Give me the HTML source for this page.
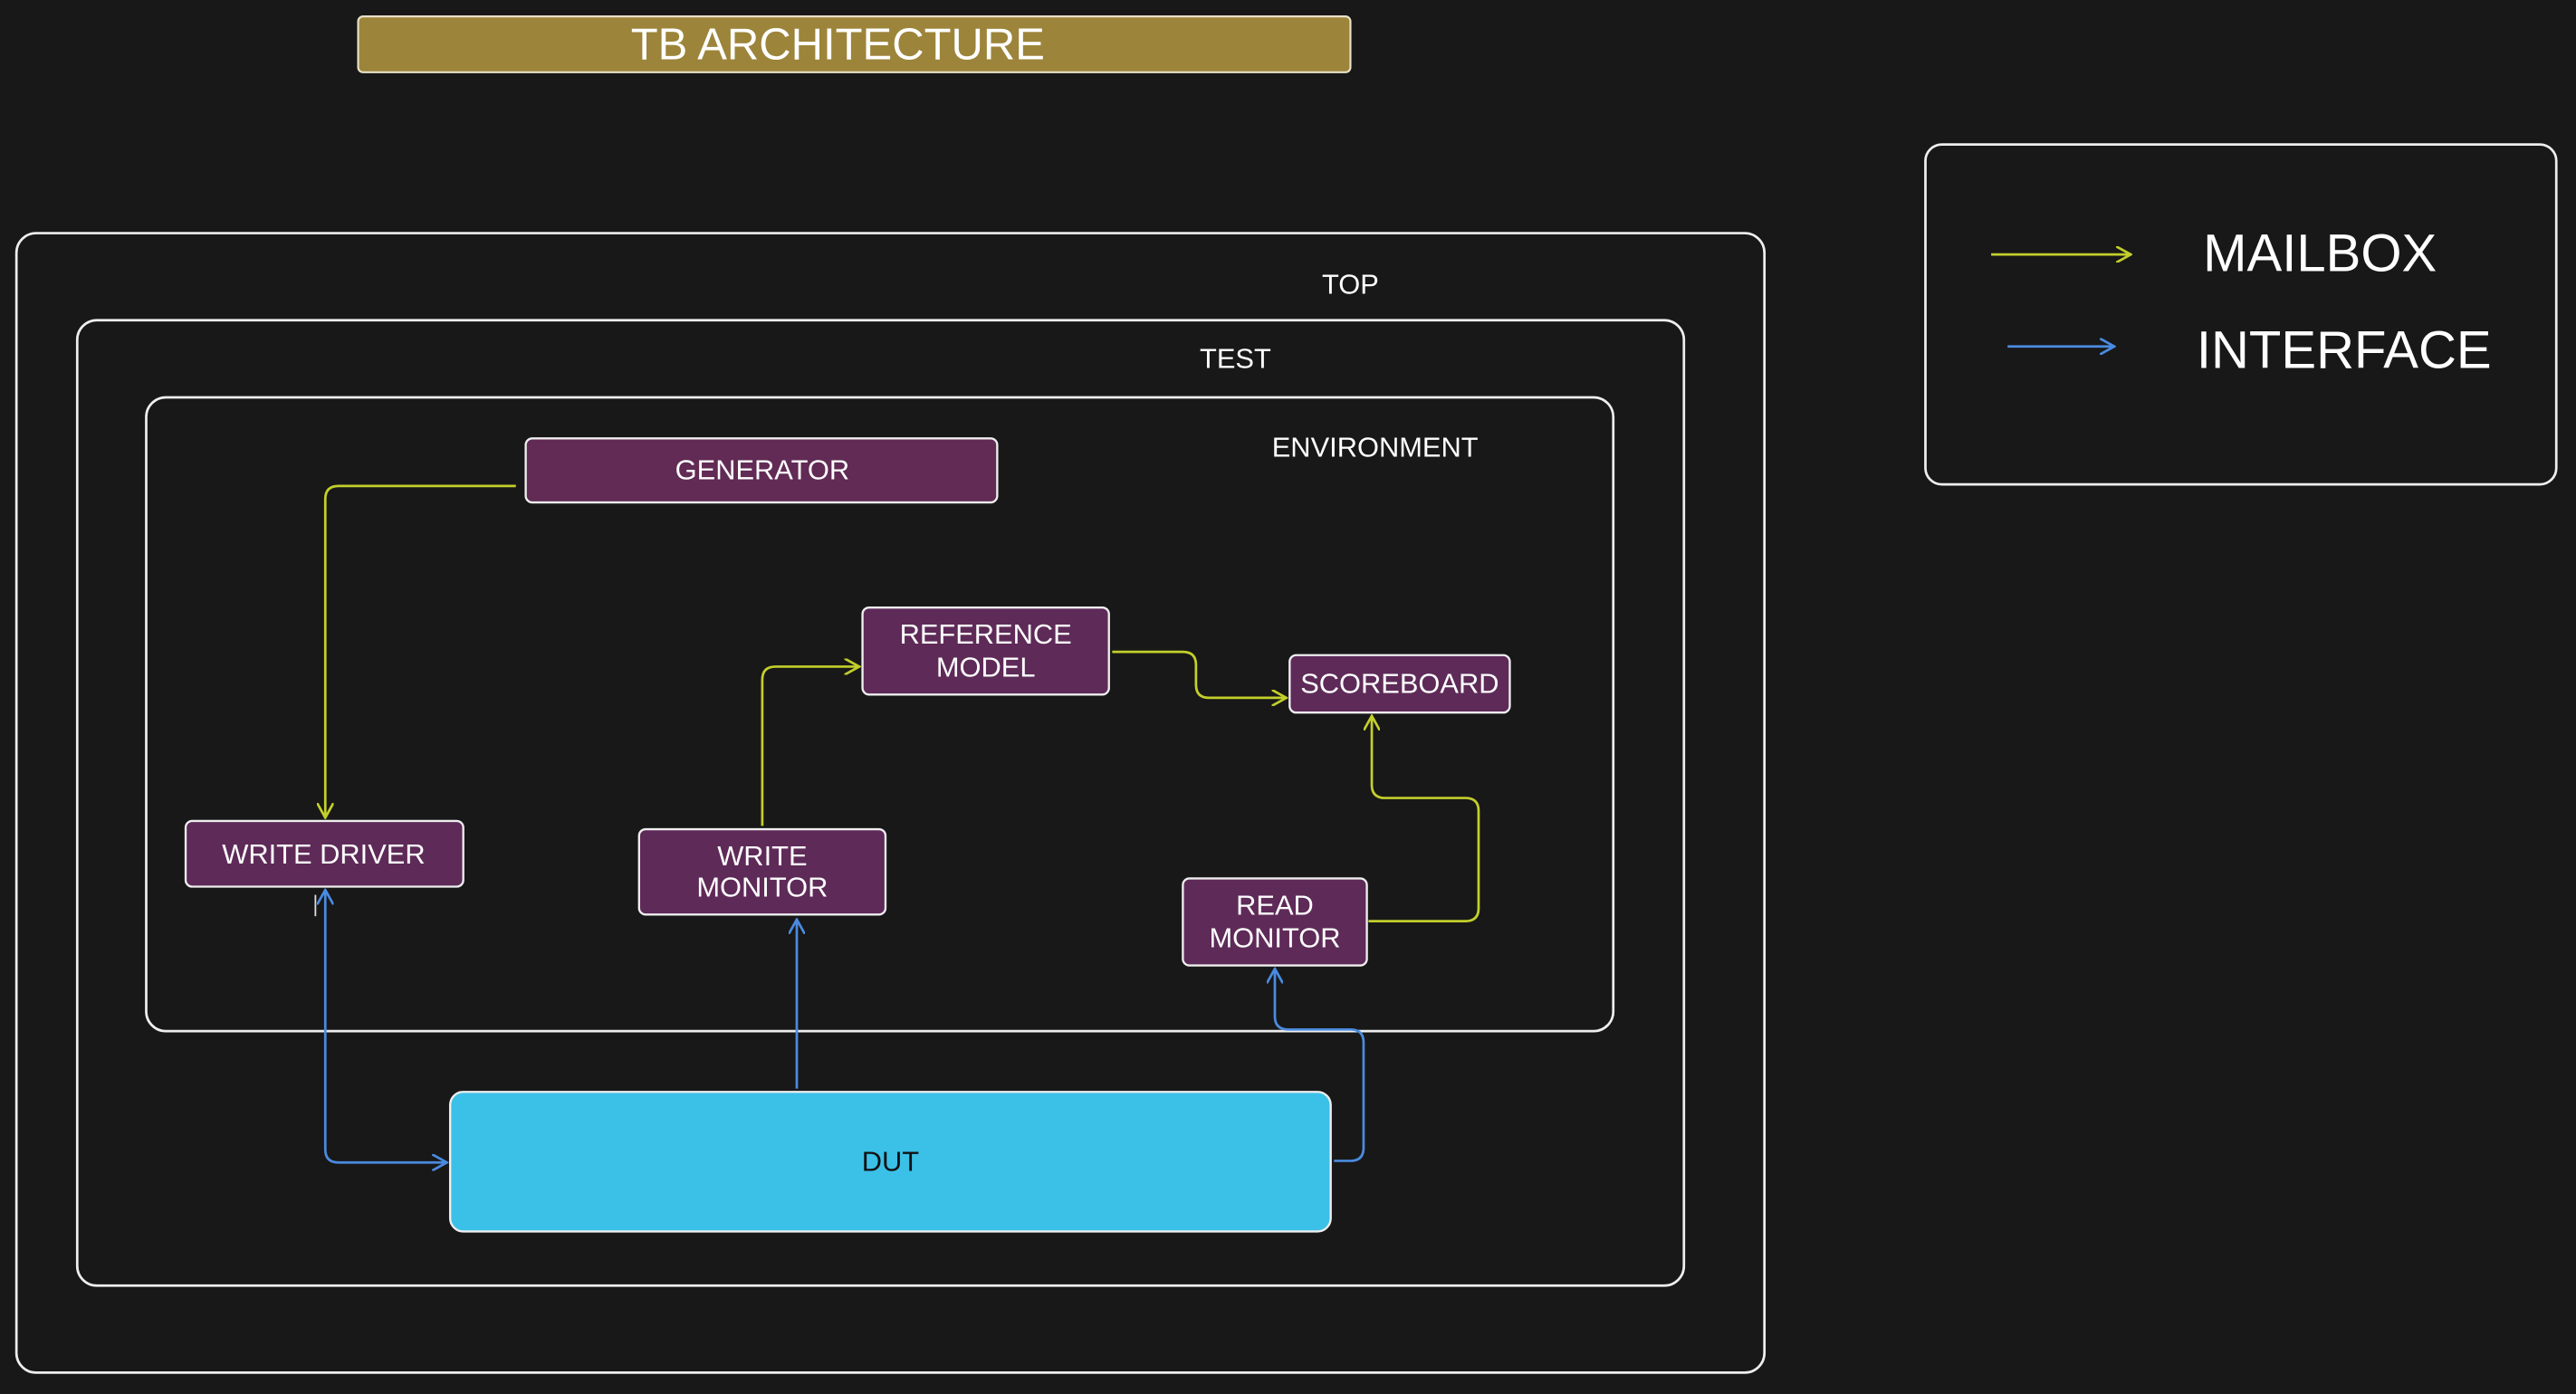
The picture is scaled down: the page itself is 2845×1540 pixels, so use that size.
<!DOCTYPE html>
<html><head><meta charset="utf-8"><style>
html,body{margin:0;padding:0;background:#181818;width:2845px;height:1540px;overflow:hidden}
svg{display:block}
text{font-family:"Liberation Sans",sans-serif;fill:#fff}
</style></head><body>
<svg width="2845" height="1540" viewBox="0 0 1568 849" preserveAspectRatio="none" xmlns="http://www.w3.org/2000/svg">
<rect width="1568" height="849" fill="#181818"/>
<defs>
<marker id="ay" viewBox="0 0 10 10" refX="9" refY="5" markerWidth="10" markerHeight="10" orient="auto-start-reverse" markerUnits="userSpaceOnUse"><path d="M0,0 L9,5 L0,10" fill="none" stroke="#c3cf2b" stroke-width="1.5"/></marker>
<marker id="ab" viewBox="0 0 10 10" refX="9" refY="5" markerWidth="10" markerHeight="10" orient="auto-start-reverse" markerUnits="userSpaceOnUse"><path d="M0,0 L9,5 L0,10" fill="none" stroke="#4a8be0" stroke-width="1.5"/></marker>
</defs>
<!-- title -->
<rect x="218" y="10" width="604" height="34" rx="3" fill="#9c843a" stroke="#e8e0c8" stroke-width="1.2"/>
<text x="510" y="36" font-size="27" text-anchor="middle">TB ARCHITECTURE</text>
<!-- containers -->
<rect x="10" y="142" width="1064" height="694" rx="12" fill="none" stroke="#eee" stroke-width="1.5"/>
<text x="822" y="179" font-size="17" text-anchor="middle">TOP</text>
<rect x="47" y="195" width="978" height="588" rx="12" fill="none" stroke="#eee" stroke-width="1.5"/>
<text x="752" y="224" font-size="17" text-anchor="middle">TEST</text>
<rect x="89" y="242" width="893" height="386" rx="12" fill="none" stroke="#eee" stroke-width="1.5"/>
<text x="837" y="278" font-size="17" text-anchor="middle">ENVIRONMENT</text>
<!-- legend -->
<rect x="1172" y="88" width="384" height="207" rx="10" fill="none" stroke="#eee" stroke-width="1.5"/>
<line x1="1212" y1="155" x2="1297" y2="155" stroke="#c3cf2b" stroke-width="1.5" marker-end="url(#ay)"/>
<text x="1341" y="165" font-size="32">MAILBOX</text>
<line x1="1222" y1="211" x2="1287" y2="211" stroke="#4a8be0" stroke-width="1.5" marker-end="url(#ab)"/>
<text x="1337" y="224" font-size="32">INTERFACE</text>
<!-- nodes -->
<g stroke="#eee" stroke-width="1.3" fill="#5e2a58">
<rect x="320" y="267" width="287" height="39" rx="4" fill="#612b55"/>
<rect x="525" y="370" width="150" height="53" rx="4"/>
<rect x="785" y="399" width="134" height="35" rx="4"/>
<rect x="113" y="500" width="169" height="40" rx="4"/>
<rect x="389" y="505" width="150" height="52" rx="4"/>
<rect x="720" y="535" width="112" height="53" rx="4"/>
</g>
<rect x="274" y="665" width="536" height="85" rx="8" fill="#3bc0e8" stroke="#eee" stroke-width="1.3"/>
<g font-size="17" text-anchor="middle">
<text x="464" y="292">GENERATOR</text>
<text x="600" y="392">REFERENCE</text><text x="600" y="412">MODEL</text>
<text x="852" y="422">SCOREBOARD</text>
<text x="197" y="526">WRITE DRIVER</text>
<text x="464" y="527">WRITE</text><text x="464" y="546">MONITOR</text>
<text x="776" y="557">READ</text><text x="776" y="577">MONITOR</text>
<text x="542" y="713" style="fill:#111">DUT</text>
</g>
<!-- mailbox arrows -->
<g fill="none" stroke="#c3cf2b" stroke-width="1.5">
<path d="M314,296 L206,296 Q198,296 198,304 L198,498" marker-end="url(#ay)"/>
<path d="M464,503 L464,414 Q464,406 472,406 L523,406" marker-end="url(#ay)"/>
<path d="M677,397 L720,397 Q728,397 728,405 L728,417 Q728,425 736,425 L783,425" marker-end="url(#ay)"/>
<path d="M833,561 L892,561 Q900,561 900,553 L900,494 Q900,486 892,486 L843,486 Q835,486 835,478 L835,436" marker-end="url(#ay)"/>
</g>
<!-- interface arrows -->
<g fill="none" stroke="#4a8be0" stroke-width="1.5">
<path d="M198,542 L198,700 Q198,708 206,708 L272,708" marker-start="url(#ab)" marker-end="url(#ab)"/>
<path d="M485,663 L485,560" marker-end="url(#ab)"/>
<path d="M812,707 L822,707 Q830,707 830,699 L830,635 Q830,627 822,627 L784,627 Q776,627 776,619 L776,590" marker-end="url(#ab)"/>
</g>
<line x1="192" y1="545" x2="192" y2="558" stroke="#ddd" stroke-width="1"/>
</svg>
</body></html>
